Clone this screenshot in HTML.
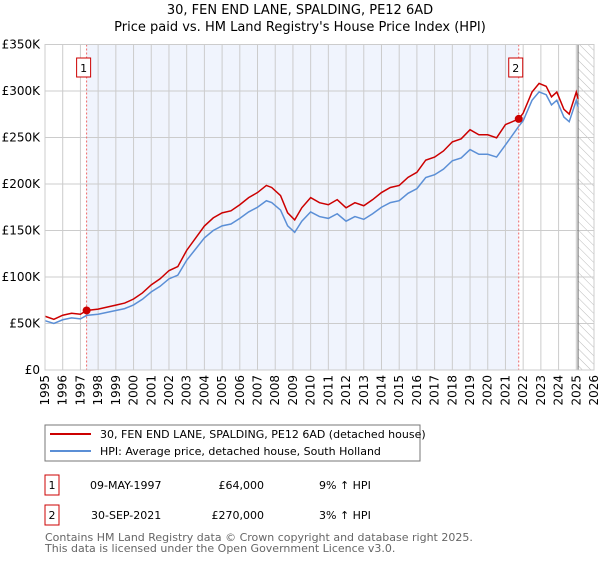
<!DOCTYPE html>
<html><head><meta charset="utf-8"><style>
body{margin:0;background:#fff;font-family:"Liberation Sans","DejaVu Sans",sans-serif;}
svg text{font-family:"DejaVu Sans","Liberation Sans",sans-serif;}
</style></head><body>
<svg id="c" width="600" height="560" viewBox="0 0 600 560" xmlns="http://www.w3.org/2000/svg">
<defs><pattern id="hatch" width="6" height="6" patternUnits="userSpaceOnUse" patternTransform="rotate(-45)"><line x1="0" y1="0" x2="0" y2="6" stroke="#bbb" stroke-width="1"/></pattern></defs>
<text x="300" y="14" text-anchor="middle" font-size="13">30, FEN END LANE, SPALDING, PE12 6AD</text>
<text x="300" y="31" text-anchor="middle" font-size="13">Price paid vs. HM Land Registry's House Price Index (HPI)</text>
<g id="plot"></g>
<rect x="45" y="425" width="375" height="36" fill="#fff" stroke="#777"/>
<line x1="50" y1="434" x2="91" y2="434" stroke="#cc0000" stroke-width="2"/>
<text x="100" y="438" font-size="11">30, FEN END LANE, SPALDING, PE12 6AD (detached house)</text>
<line x1="50" y1="451" x2="91" y2="451" stroke="#5b8fd6" stroke-width="2"/>
<text x="100" y="455" font-size="11">HPI: Average price, detached house, South Holland</text>
<rect x="45" y="475" width="14" height="20" fill="#fff" stroke="#cc0000"/>
<text x="52" y="489" font-size="11" text-anchor="middle">1</text>
<text x="90" y="489" font-size="11">09-MAY-1997</text>
<text x="264" y="489" font-size="11" text-anchor="end">£64,000</text>
<text x="319" y="489" font-size="11">9% ↑ HPI</text>
<rect x="45" y="505" width="14" height="20" fill="#fff" stroke="#cc0000"/>
<text x="52" y="519" font-size="11" text-anchor="middle">2</text>
<text x="91" y="519" font-size="11">30-SEP-2021</text>
<text x="264" y="519" font-size="11" text-anchor="end">£270,000</text>
<text x="319" y="519" font-size="11">3% ↑ HPI</text>
<text x="45" y="541" font-size="11" fill="#666">Contains HM Land Registry data © Crown copyright and database right 2025.</text>
<text x="45" y="552" font-size="11" fill="#666">This data is licensed under the Open Government Licence v3.0.</text>
</svg>
<script>
const hpiYears=[1995.0,1995.5,1996,1996.5,1997,1997.35,1998,1998.5,1999,1999.5,2000,2000.5,2001,2001.5,2002,2002.5,2003,2003.5,2004,2004.5,2005,2005.5,2006,2006.5,2007,2007.5,2007.8,2008.3,2008.7,2009.1,2009.5,2010,2010.5,2011,2011.5,2012,2012.5,2013,2013.5,2014,2014.5,2015,2015.5,2016,2016.5,2017,2017.5,2018,2018.5,2019,2019.5,2020,2020.5,2021,2021.75,2022,2022.5,2022.9,2023.3,2023.6,2023.9,2024.3,2024.6,2025,2025.1];
const hpiValues=[53000,50000,54000,56000,55000,58700,60000,62000,64000,66000,70000,76000,84000,90000,98000,102000,118000,130000,142000,150000,155000,157000,163000,170000,175000,182000,180000,172000,155000,148000,160000,170000,165000,163000,168000,160000,165000,162000,168000,175000,180000,182000,190000,195000,207000,210000,216000,225000,228000,237000,232000,232000,229000,242000,262000,268000,290000,299000,296000,285000,290000,272000,267000,290000,283000];
const saleYears=[1997.35,2021.75];
const salePrices=[64000,270000];
const yTicks=[0,50000,100000,150000,200000,250000,300000,350000];
const yTickLabels=["£0","£50K","£100K","£150K","£200K","£250K","£300K","£350K"];
const xTicks=[1995,1996,1997,1998,1999,2000,2001,2002,2003,2004,2005,2006,2007,2008,2009,2010,2011,2012,2013,2014,2015,2016,2017,2018,2019,2020,2021,2022,2023,2024,2025,2026];

const X0=45,X1=594,Y0=370,Y1=44.5;
const xs=v=>X0+(v-1995)/(2026-1995)*(X1-X0);
const ys=v=>Y0-v/350000*(Y0-Y1);
const NS="http://www.w3.org/2000/svg";
const g=document.getElementById('plot');
function mk(t,a){const e=document.createElementNS(NS,t);for(const k in a)e.setAttribute(k,a[k]);g.appendChild(e);return e;}
let e;
e=mk('rect',{x:xs(saleYears[0]),y:Y1,width:xs(saleYears[1])-xs(saleYears[0]),height:Y0-Y1,fill:'#f0f4fd'});


e=mk('rect',{x:xs(2025.1),y:Y1,width:X1-xs(2025.1),height:Y0-Y1,fill:'url(#hatch)'});


yTicks.forEach((v,i)=>{
 e=mk('line',{x1:X0,x2:X1,y1:ys(v),y2:ys(v),stroke:'#ccc','stroke-width':1});
 
 
 e=mk('text',{x:40,y:ys(v)+4,'text-anchor':'end','font-size':12});
 e.textContent=yTickLabels[i];
 
 
});
xTicks.forEach(v=>{
 e=mk('line',{x1:xs(v),x2:xs(v),y1:Y1,y2:Y0,stroke:'#ccc','stroke-width':1});
 
 
 const tx=xs(v)+4, ty=375;
 e=mk('text',{x:tx,y:ty,'text-anchor':'end','font-size':12,transform:'rotate(-90 '+tx+' '+ty+')'});
 e.textContent=String(v);
 
 
});
e=mk('line',{x1:xs(2025.1),x2:xs(2025.1),y1:Y1,y2:Y0,stroke:'#666','stroke-width':1});


function hpiAt(t){for(let i=1;i<hpiYears.length;i++){if(t<=hpiYears[i]){const f=(t-hpiYears[i-1])/(hpiYears[i]-hpiYears[i-1]);return hpiValues[i-1]+f*(hpiValues[i]-hpiValues[i-1]);}}return hpiValues[hpiValues.length-1];}
const f1=salePrices[0]/hpiAt(saleYears[0]), f2=salePrices[1]/hpiAt(saleYears[1]);
const hp=hpiYears.map((t,i)=>xs(t)+','+ys(hpiValues[i])).join(' ');
e=mk('polyline',{points:hp,fill:'none',stroke:'#5b8fd6','stroke-width':1.5});


const rp=hpiYears.map((t,i)=>xs(t)+','+ys(hpiValues[i]*(t<saleYears[1]?f1:f2))).join(' ');
e=mk('polyline',{points:rp,fill:'none',stroke:'#cc0000','stroke-width':1.5});


saleYears.forEach((t,i)=>{
 e=mk('line',{x1:xs(t),x2:xs(t),y1:Y1,y2:Y0,stroke:'#e66','stroke-width':1,'stroke-dasharray':'2,2'});
 
 
 e=mk('circle',{cx:xs(t),cy:ys(salePrices[i]),r:4,fill:'#cc0000'});
 
 
 e=mk('rect',{x:xs(t)-10,y:58,width:14,height:19,fill:'#fff',stroke:'#cc0000'});
 
 
 e=mk('text',{x:xs(t)-3,y:72,'text-anchor':'middle','font-size':11});
 e.textContent=String(i+1);
 
 
});
e=mk('rect',{x:X0,y:Y1,width:X1-X0,height:Y0-Y1,fill:'none',stroke:'#ccc'});


</script>
</body></html>
